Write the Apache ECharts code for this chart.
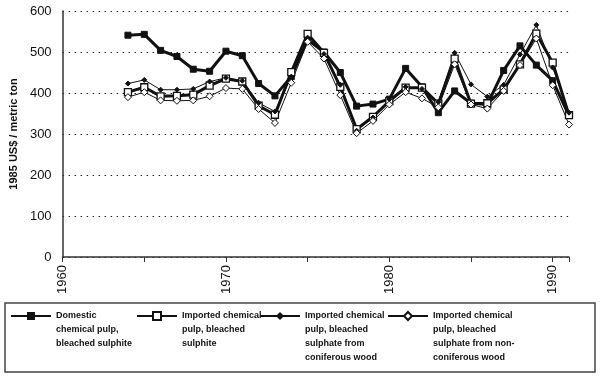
<!DOCTYPE html>
<html>
<head>
<meta charset="utf-8">
<script src="https://cdn.jsdelivr.net/npm/echarts@6/dist/echarts.min.js"></script>
<style>
html,body{margin:0;padding:0;background:#fff;}
#chart{width:600px;height:379px;}
</style>
</head>
<body>
<div id="chart"></div>
<script>
// years 1964-1991, 1985 US$ per metric ton
const years = [1964,1965,1966,1967,1968,1969,1970,1971,1972,1973,1974,1975,1976,1977,1978,1979,1980,1981,1982,1983,1984,1985,1986,1987,1988,1989,1990,1991];
const domestic     = [541,543,504,489,458,453,502,491,423,393,440,530,500,450,368,373,385,460,415,352,405,375,372,455,515,468,430,345];
const importedSulphite = [402,414,392,393,396,418,435,428,369,347,451,544,498,415,312,342,380,413,413,374,484,374,375,409,470,545,474,346];
const coniferous   = [423,432,408,408,410,428,437,430,376,355,440,535,495,420,308,340,385,415,410,378,498,421,391,420,494,566,462,352];
const nonConiferous= [390,402,382,381,382,392,412,410,361,327,425,525,484,395,302,332,372,402,387,365,470,372,362,405,468,533,419,323];
const yTicks = [0,100,200,300,400,500,600];

const names = [
  'Domestic\nchemical pulp,\nbleached sulphite',
  'Imported chemical\npulp, bleached\nsulphite',
  'Imported chemical\npulp, bleached\nsulphate from\nconiferous wood',
  'Imported chemical\npulp, bleached\nsulphate from non-\nconiferous wood'
];

const pairs = arr => years.map((y, i) => [y, arr[i]]);

const chart = echarts.init(document.getElementById('chart'));

// legend text is centred on its icon, so blank lines are put in front
// to bring the first line level with the icon
const lineH = 14;
function legendAt(name, left, iconCenter) {
  const n = name.split('\n').length;
  const boxH = (2 * n - 1) * lineH;
  return {
    data: [name],
    left: left,
    top: iconCenter - boxH / 2,
    padding: 0,
    itemWidth: 40,
    itemHeight: 10,
    selectedMode: false,
    formatter: s => '\n'.repeat(n - 1) + s,
    textStyle: {
      fontFamily: 'Liberation Sans',
      fontWeight: 'bold',
      fontSize: 9,
      color: '#111',
      lineHeight: lineH
    }
  };
}

chart.setOption({
  animation: false,
  backgroundColor: '#fff',
  grid: { left: 61, right: 31, top: 11, bottom: 122 },
  graphic: [{
    type: 'rect',
    shape: { x: 5, y: 303, width: 590, height: 69 },
    style: { fill: 'none', stroke: '#444', lineWidth: 1.5 }
  }],
  legend: [
    legendAt(names[0], 10, 316),
    legendAt(names[1], 136, 316),
    legendAt(names[2], 259, 316),
    legendAt(names[3], 387, 316)
  ],
  xAxis: {
    type: 'value',
    min: 1960, max: 1991, interval: 5,
    axisLine: { lineStyle: { color: '#333', width: 1.5 } },
    axisTick: { show: true, length: 5, lineStyle: { color: '#333' } },
    axisLabel: {
      rotate: 90, margin: 8,
      fontFamily: 'Liberation Sans', fontSize: 13, color: '#111',
      formatter: v => (v % 10 === 0 ? String(v) : '')
    },
    splitLine: { show: false }
  },
  yAxis: {
    type: 'value',
    min: yTicks[0], max: yTicks[yTicks.length - 1], interval: 100,
    name: '1985 US$ / metric ton',
    nameLocation: 'middle', nameRotate: 90, nameGap: 42,
    nameTextStyle: { fontFamily: 'Liberation Sans', fontWeight: 'bold', fontSize: 11, color: '#111' },
    axisLine: { show: true, lineStyle: { color: '#333', width: 1.5 } },
    axisTick: { show: false },
    axisLabel: { margin: 11, fontFamily: 'Liberation Sans', fontSize: 13, color: '#111' },
    splitLine: { lineStyle: { type: [1.5, 4.5], color: '#222', width: 1.2 } }
  },
  series: [
    {
      name: names[0], type: 'line', data: pairs(domestic),
      symbol: 'rect', symbolSize: 6,
      lineStyle: { color: '#111', width: 3 },
      itemStyle: { color: '#111', borderColor: '#111' }
    },
    {
      name: names[1], type: 'line', data: pairs(importedSulphite),
      symbol: 'rect', symbolSize: 7,
      lineStyle: { color: '#111', width: 3 },
      itemStyle: { color: '#fff', borderColor: '#111', borderWidth: 1.3 }
    },
    {
      name: names[2], type: 'line', data: pairs(coniferous),
      symbol: 'diamond', symbolSize: 5,
      lineStyle: { color: '#111', width: 1 },
      itemStyle: { color: '#111', borderColor: '#111' }
    },
    {
      name: names[3], type: 'line', data: pairs(nonConiferous),
      symbol: 'diamond', symbolSize: 7,
      lineStyle: { color: '#111', width: 1 },
      itemStyle: { color: '#fff', borderColor: '#111', borderWidth: 1 }
    }
  ]
});
</script>
</body>
</html>
